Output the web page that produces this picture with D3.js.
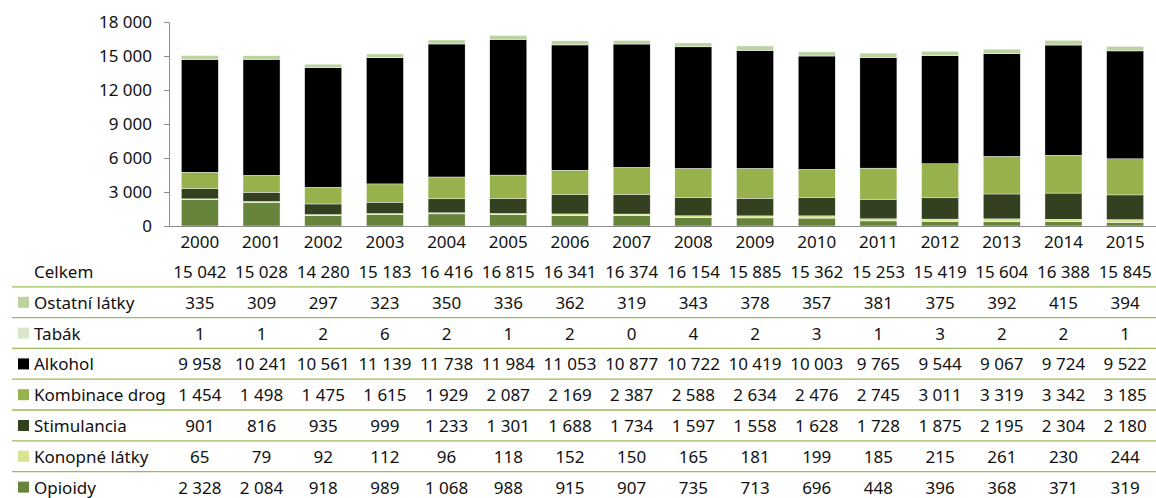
<!DOCTYPE html>
<html lang="cs">
<head>
<meta charset="UTF-8">
<title>Celkem podle látek</title>
<script src="https://d3js.org/d3.v7.min.js"></script>
<style>
  body { margin: 0; background: #fff; }
  svg text { font-family: "Noto Sans", sans-serif; font-size: 17px; fill: #111; }
</style>
</head>
<body>
<div id="chart"></div>
<script>
const years = ["2000","2001","2002","2003","2004","2005","2006","2007","2008","2009","2010","2011","2012","2013","2014","2015"];
const celkem      = [15042,15028,14280,15183,16416,16815,16341,16374,16154,15885,15362,15253,15419,15604,16388,15845];
const ostatni     = [335,309,297,323,350,336,362,319,343,378,357,381,375,392,415,394];
const tabak       = [1,1,2,6,2,1,2,0,4,2,3,1,3,2,2,1];
const alkohol     = [9958,10241,10561,11139,11738,11984,11053,10877,10722,10419,10003,9765,9544,9067,9724,9522];
const kombinace   = [1454,1498,1475,1615,1929,2087,2169,2387,2588,2634,2476,2745,3011,3319,3342,3185];
const stimulancia = [901,816,935,999,1233,1301,1688,1734,1597,1558,1628,1728,1875,2195,2304,2180];
const konopne     = [65,79,92,112,96,118,152,150,165,181,199,185,215,261,230,244];
const opioidy     = [2328,2084,918,989,1068,988,915,907,735,713,696,448,396,368,371,319];
const yTicks = [0,3000,6000,9000,12000,15000,18000];

// table rows, top to bottom (stack is drawn bottom to top in reverse)
const series = [
  {name: "Ostatní látky",   values: ostatni,     color: "#bcd3a1"},
  {name: "Tabák",           values: tabak,       color: "#dae6cc"},
  {name: "Alkohol",         values: alkohol,     color: "#000000"},
  {name: "Kombinace drog",  values: kombinace,   color: "#97b24c"},
  {name: "Stimulancia",     values: stimulancia, color: "#344120"},
  {name: "Konopné látky",   values: konopne,     color: "#d8e48f"},
  {name: "Opioidy",         values: opioidy,     color: "#66853a"}
];

const W = 1156, H = 498;
const locale = d3.formatLocale({decimal: ",", thousands: " ", grouping: [3], currency: ["", ""]});
const fmt = locale.format(",d");

const svg = d3.select("#chart").append("svg").attr("width", W).attr("height", H);

const x = d3.scaleBand().domain(years).range([169, 1156]).paddingInner(0.4).paddingOuter(0.2);
const y = d3.scaleLinear().domain([0, 18000]).range([226, 22]);

// stacked bars
const stackOrder = series.slice().reverse();
const rows = years.map((yr, i) => {
  const o = {year: yr};
  stackOrder.forEach(s => { o[s.name] = s.values[i]; });
  return o;
});
const stacked = d3.stack().keys(stackOrder.map(s => s.name))(rows);

svg.append("g").selectAll("g")
  .data(stacked)
  .join("g")
  .attr("fill", (d, i) => stackOrder[i].color)
  .selectAll("rect")
  .data(d => d)
  .join("rect")
  .attr("x", d => x(d.data.year))
  .attr("width", x.bandwidth())
  .attr("y", d => y(d[1]))
  .attr("height", d => Math.max(0, y(d[0]) - y(d[1])))
  .attr("stroke", "#ffffff")
  .attr("stroke-width", 0.4);

// y axis
const yAxis = svg.append("g").attr("transform", "translate(169,0)")
  .call(d3.axisLeft(y).tickValues(yTicks).tickFormat(fmt).tickSize(5).tickSizeOuter(0));
yAxis.selectAll("line, path").attr("stroke", "#8c8c8c");
yAxis.selectAll("text").attr("x", -17).style("font-size", "17px")
  .style("font-family", "Noto Sans, sans-serif").style("fill", "#111");

// x axis line
svg.append("line").attr("x1", 169).attr("x2", 1156).attr("y1", 226.5).attr("y2", 226.5)
  .attr("stroke", "#8c8c8c");

svg.append("g").selectAll("text")
  .data(years)
  .join("text")
  .attr("x", d => x(d) + x.bandwidth() / 2)
  .attr("y", 248)
  .attr("text-anchor", "middle")
  .text(d => d);

// data table
const rowY0 = 278, rowStep = 30.8;
const tbl = svg.append("g");

tbl.append("text").attr("x", 34).attr("y", rowY0).text("Celkem");
tbl.append("g").selectAll("text")
  .data(celkem)
  .join("text")
  .attr("x", (d, i) => x(years[i]) + x.bandwidth() / 2)
  .attr("y", rowY0)
  .attr("text-anchor", "middle")
  .text(d => fmt(d));

series.forEach((s, r) => {
  const ty = rowY0 + (r + 1) * rowStep;
  tbl.append("line")
    .attr("x1", 12).attr("x2", 1156)
    .attr("y1", ty - 22).attr("y2", ty - 22)
    .attr("stroke", "#9bbb59").attr("stroke-width", 1.3);
  tbl.append("rect").attr("x", 18).attr("y", ty - 12).attr("width", 11).attr("height", 11)
    .attr("fill", s.color);
  tbl.append("text").attr("x", 34).attr("y", ty).text(s.name);
  tbl.append("g").selectAll("text")
    .data(s.values)
    .join("text")
    .attr("x", (d, i) => x(years[i]) + x.bandwidth() / 2)
    .attr("y", ty)
    .attr("text-anchor", "middle")
    .text(d => fmt(d));
});
</script>
</body>
</html>
